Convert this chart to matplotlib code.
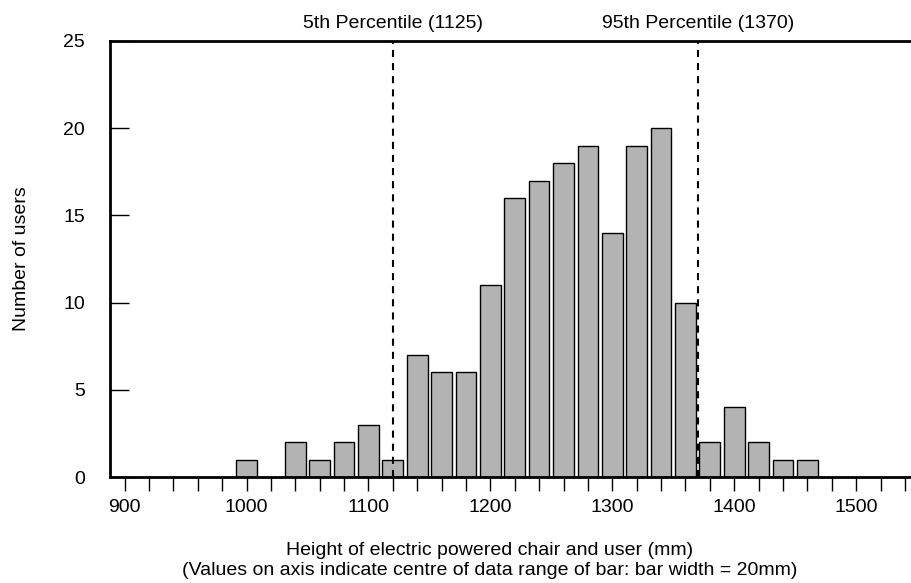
import matplotlib
matplotlib.use("Agg")
import matplotlib.pyplot as plt
import numpy as np

plt.rcParams['font.family'] = ['Liberation Sans', 'DejaVu Sans']

# bar centres (mm) and counts
centres = [1000, 1040, 1060, 1080, 1100, 1120, 1140, 1160, 1180, 1200, 1220, 1240,
           1260, 1280, 1300, 1320, 1340, 1360, 1380, 1400, 1420, 1440, 1460]
counts = [1, 2, 1, 2, 3, 1, 7, 6, 6, 11, 16, 17, 18, 19, 14, 19, 20, 10, 2, 4, 2, 1, 1]

pct_pos = [1120, 1370]
pct_labels = ['5th Percentile (1125)', '95th Percentile (1370)']

fig = plt.figure(figsize=(9.11, 5.83), dpi=100)
ax = fig.add_axes([0.1207, 0.1818, 0.8793, 0.7479])

ax.bar(centres, counts, width=17, color='#b3b3b3', edgecolor='black', linewidth=1, zorder=2)

for x, lab in zip(pct_pos, pct_labels):
    ax.axvline(x, color='black', linestyle=(0, (3.4, 2.9)), linewidth=1.5, zorder=3)
    ax.text(x, 25.5, lab, ha='center', va='bottom', fontsize=14)

ax.set_xlim(888, 1545)
ax.set_ylim(0, 25)
ax.set_xticks(np.arange(900, 1541, 20))
ax.set_xticklabels([str(t) if t % 100 == 0 else '' for t in range(900, 1541, 20)])
ax.set_yticks([0, 5, 10, 15, 20, 25])

ax.tick_params(axis='x', direction='out', length=10, width=1, labelsize=14, pad=6)
ax.tick_params(axis='y', direction='in', length=14, width=1, labelsize=14, pad=18)

for s in ['left', 'top', 'bottom']:
    ax.spines[s].set_linewidth(2)
ax.spines['right'].set_visible(False)

ax.set_ylabel('Number of users', fontsize=14, labelpad=24)
ax.set_xlabel('Height of electric powered chair and user (mm)\n'
              '(Values on axis indicate centre of data range of bar: bar width = 20mm)',
              fontsize=14, linespacing=1.2)
ax.xaxis.set_label_coords(0.474, -0.15)

fig.savefig('out.png', dpi=100)
